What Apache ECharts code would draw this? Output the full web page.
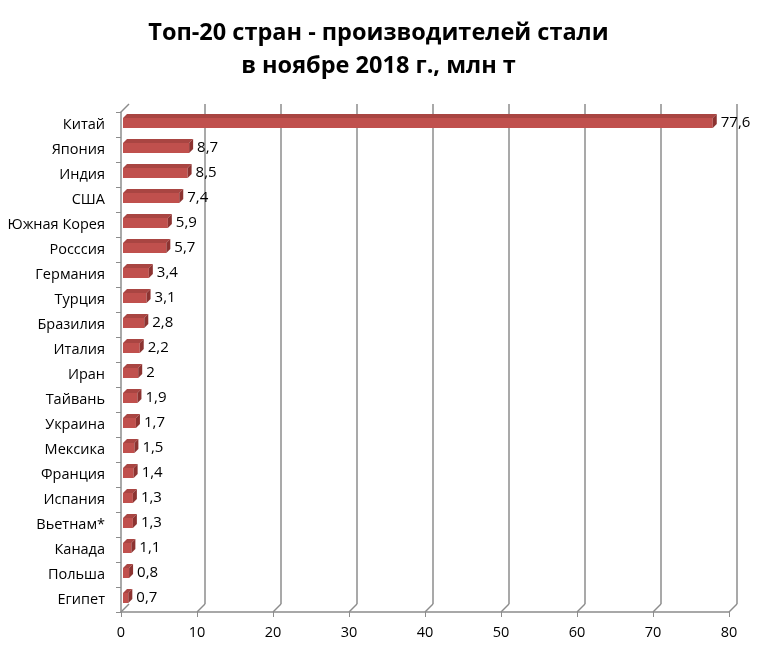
<!DOCTYPE html>
<html>
<head>
<meta charset="utf-8">
<script src="https://cdn.jsdelivr.net/npm/echarts@6/dist/echarts.min.js"></script>
<style>
  html, body { margin: 0; padding: 0; background: #fff; }
  #chart { width: 757px; height: 656px; }
</style>
</head>
<body>
<div id="chart"></div>
<script>
// data
const countries = ['Китай', 'Япония', 'Индия', 'США', 'Южная Корея', 'Росссия', 'Германия', 'Турция',
    'Бразилия', 'Италия', 'Иран', 'Тайвань', 'Украина', 'Мексика', 'Франция', 'Испания',
    'Вьетнам*', 'Канада', 'Польша', 'Египет'];
const output = [77.6, 8.7, 8.5, 7.4, 5.9, 5.7, 3.4, 3.1, 2.8, 2.2, 2, 1.9, 1.7, 1.5, 1.4, 1.3, 1.3, 1.1, 0.8, 0.7];
const xTicks = [0, 10, 20, 30, 40, 50, 60, 70, 80];

const FONT = 'Open Sans';
const DEPTH = 8;      // 3D offset of the back wall
const BAR_D = 4;      // depth of each bar
const BAR_H = 10;

const chart = echarts.init(document.getElementById('chart'));

// 3D-ish bar: front face + top + right end
function renderBar(params, api) {
    const idx = api.value(0);
    const val = api.value(1);
    const p0 = api.coord([0, idx]);
    const p1 = api.coord([val, idx]);
    const x = p0[0] + 2;
    const w = p1[0] - p0[0];
    const y = p0[1] - 1.5 - BAR_H / 2;
    const d = BAR_D;
    return {
        type: 'group',
        children: [
            {
                type: 'rect',
                shape: { x: x, y: y, width: w, height: BAR_H },
                style: { fill: '#C0504D' }
            },
            {
                type: 'polygon',
                shape: { points: [[x, y], [x + d, y - d], [x + w + d, y - d], [x + w, y]] },
                style: { fill: '#A94542' }
            },
            {
                type: 'polygon',
                shape: { points: [[x + w, y], [x + w + d, y - d], [x + w + d, y + BAR_H - d], [x + w, y + BAR_H]] },
                style: { fill: '#8C3331' }
            },
            {
                type: 'text',
                style: {
                    x: x + w + d + 4,
                    y: y + BAR_H / 2,
                    text: String(val).replace('.', ','),
                    fill: '#000',
                    font: '15px "' + FONT + '"',
                    verticalAlign: 'middle',
                    align: 'left'
                }
            }
        ]
    };
}

// floor edges joining the front axis to the back wall
function renderFloor(params, api) {
    const v = api.value(0);
    const cs = params.coordSys;
    const bottom = cs.y + cs.height;
    const px = api.coord([v, 0])[0];
    const style = { stroke: '#8c8c8c', lineWidth: 1.5 };
    const children = [{
        type: 'line',
        shape: { x1: px, y1: bottom, x2: px + DEPTH, y2: bottom - DEPTH },
        style: style
    }];
    if (v === 0) {
        children.push({
            type: 'line',
            shape: { x1: cs.x, y1: cs.y, x2: cs.x + DEPTH, y2: cs.y - DEPTH },
            style: style
        });
    }
    return { type: 'group', children: children };
}

const option = {
    backgroundColor: '#fff',
    animation: false,
    title: {
        text: 'Топ-20 стран - производителей стали\nв ноябре 2018 г., млн т',
        left: 'center',
        top: 12,
        textStyle: {
            fontFamily: FONT,
            fontWeight: 'bold',
            fontSize: 23.5,
            lineHeight: 33,
            color: '#000'
        }
    },
    grid: [
        { left: 121 + DEPTH, width: 608, top: 112 - DEPTH, height: 500 },  // back wall
        { left: 121, width: 608, top: 112, height: 500 }                   // front
    ],
    xAxis: [
        {
            gridIndex: 0, type: 'value', min: 0, max: 80, interval: 10,
            axisLine: { show: false }, axisTick: { show: false }, axisLabel: { show: false },
            splitLine: { show: true, showMinLine: false, lineStyle: { color: '#8c8c8c', width: 1.5 } }
        },
        {
            gridIndex: 1, type: 'value', min: 0, max: 80, interval: 10,
            axisLine: { show: true, lineStyle: { color: '#8c8c8c', width: 1.5 } },
            axisTick: { show: true, length: 5, lineStyle: { color: '#8c8c8c' } },
            axisLabel: { color: '#000', fontFamily: FONT, fontSize: 14.5, margin: 13 },
            splitLine: { show: false }
        }
    ],
    yAxis: [
        {
            gridIndex: 0, type: 'category', data: countries, inverse: true,
            axisLine: { show: false }, axisTick: { show: false }, axisLabel: { show: false }
        },
        {
            gridIndex: 1, type: 'category', data: countries, inverse: true,
            axisLine: { show: true, lineStyle: { color: '#8c8c8c', width: 1.5 } },
            axisTick: { show: true, length: 5, lineStyle: { color: '#8c8c8c' } },
            axisLabel: { color: '#000', fontFamily: FONT, fontSize: 14.5, margin: 16 }
        }
    ],
    series: [
        {
            type: 'custom',
            xAxisIndex: 1, yAxisIndex: 1,
            renderItem: renderFloor,
            data: xTicks.map(v => [v]),
            encode: { x: 0 },
            silent: true,
            z: 1
        },
        {
            type: 'custom',
            xAxisIndex: 1, yAxisIndex: 1,
            renderItem: renderBar,
            data: output.map((v, i) => [i, v]),
            encode: { y: 0, x: 1 },
            z: 3
        }
    ]
};

chart.setOption(option);
</script>
</body>
</html>
